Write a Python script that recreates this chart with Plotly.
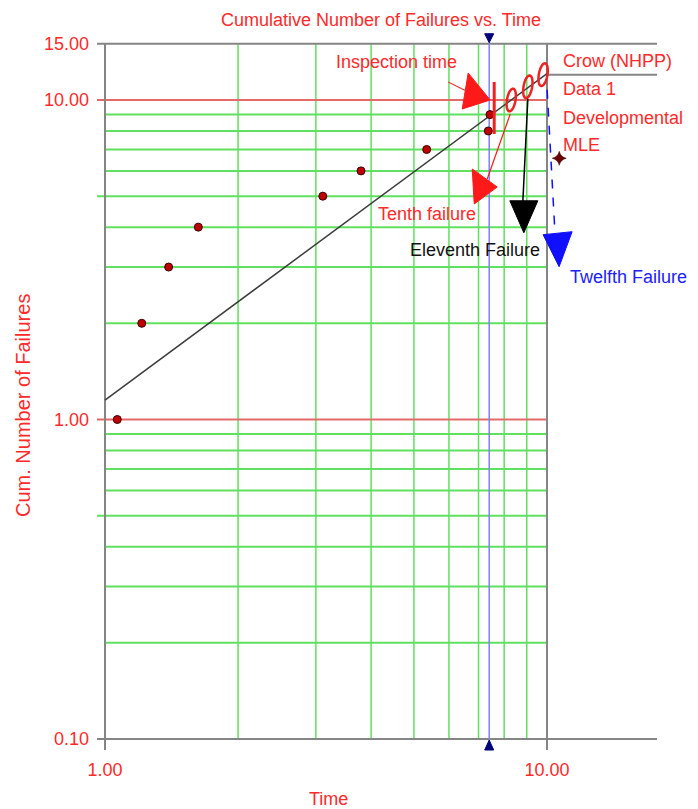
import numpy as np
import plotly.graph_objects as go

# ---------------- data ----------------
failure_times = [1.066, 1.211, 1.393, 1.626, 3.11, 3.795, 5.343, 7.366, 7.43]
cum_failures = [1, 2, 3, 4, 5, 6, 7, 8, 9]

crow_times = [1.0, 10.0]
crow_cum = [1.15, 12.1]

mle_time = [10.66]
mle_cum = [6.57]

inspection_time = 7.4
predicted_times = [8.3, 9.05, 9.8]
predicted_cum = [10, 11, 12]
predicted_labels = ["Tenth failure", "Eleventh Failure", "Twelfth Failure"]

x_tick_vals = [1, 10]
x_tick_text = ["1.00", "10.00"]
y_tick_vals = [0.1, 1, 10, 15]
y_tick_text = ["0.10", "1.00", "10.00", "15.00"]

grid_red_y = [1, 10]
grid_green_y = [0.2, 0.3, 0.4, 0.5, 0.6, 0.7, 0.8, 0.9, 2, 3, 4, 5, 6, 7, 8, 9]
grid_green_x = [2, 3, 4, 5, 6, 7, 8, 9]

legend_labels = ["Crow (NHPP)", "Data 1", "Developmental", "MLE"]
title_text = "Cumulative Number of Failures vs. Time"
x_title = "Time"
y_title = "Cum. Number of Failures"

# ---------------- geometry / styles ----------------
PAGE_OFF = 8                      # browser body margin
W, H = 698, 809                   # window size
ML, MR, MT, MB = 95, 8, 30, 54    # plot-area edges in window pixels
PW, PH = W - ML - MR, H - MT - MB
X1_PX, XDEC = 105, 442.0          # window pixel of x=1, pixels per decade
Y10_PX, YDEC = 100, 319.5         # window pixel of y=10, pixels per decade
xr = [(ML - X1_PX) / XDEC, (W - MR - X1_PX) / XDEC]
yr = [1 - (H - MB - Y10_PX) / YDEC, 1 + (Y10_PX - MT) / YDEC]

X_BOX0, X_BOX1, X_END = 1, 10, 17.74
X_TICK0 = 0.959
Y_BOX0, Y_BOX1 = 0.1, 15
Y_EXT = 0.0924
Y_SEP = 12

RED = "#ff2a2a"
GREEN = "#5fe05f"
REDGRID = "#e46a6a"
GRAY = "#858585"
FONT = "Liberation Sans, Arial, sans-serif"


def px2paper_x(px):
    return (px - ML) / PW


def px2paper_y(py):
    return 1 - (py - MT) / PH


fig = go.Figure()

shapes = []


def line_shape(x0, x1, y0, y1, color, width, layer="below", dash="solid"):
    shapes.append(dict(type="line", xref="x", yref="y", x0=x0, x1=x1, y0=y0, y1=y1,
                       line=dict(color=color, width=width, dash=dash), layer=layer))


# green grid
for gy in grid_green_y:
    x0 = X_TICK0 if gy in (0.5, 5) else X_BOX0
    line_shape(x0, X_BOX1, gy, gy, GREEN, 2)
for gx in grid_green_x:
    line_shape(gx, gx, Y_BOX0, Y_BOX1, GREEN, 1.5)
# red grid
for gy in grid_red_y:
    line_shape(X_TICK0, X_BOX1, gy, gy, REDGRID, 2)
# frame
line_shape(X_TICK0, X_END, Y_BOX1, Y_BOX1, GRAY, 2)
line_shape(X_TICK0, X_END, Y_BOX0, Y_BOX0, GRAY, 2)
line_shape(X_BOX0, X_BOX0, Y_EXT, Y_BOX1, GRAY, 2)
line_shape(X_BOX1, X_BOX1, Y_EXT, Y_BOX1, GRAY, 2)
line_shape(X_BOX1, X_END, Y_SEP, Y_SEP, GRAY, 2)
# inspection time line
line_shape(inspection_time, inspection_time, Y_BOX0, Y_BOX1, "#7f7fff", 1.5)


def pix_path(xa, ya, pts, close=True, fill=None, color="red", width=1.5, dash="solid", layer="above"):
    d = "M" + " L".join(f"{px:.2f},{py:.2f}" for px, py in pts) + (" Z" if close else "")
    shp = dict(type="path", xref="x", yref="y", xsizemode="pixel", ysizemode="pixel",
               xanchor=xa, yanchor=ya, path=d, layer=layer,
               line=dict(color=color, width=width, dash=dash))
    shp["fillcolor"] = fill if fill else "rgba(0,0,0,0)"
    shapes.append(shp)


# navy markers at the ends of the inspection line
pix_path(inspection_time, Y_BOX1, [(-4.5, 10), (4.5, 10), (0, 1)], fill="#00007a", color="#00007a", width=1)
pix_path(inspection_time, Y_BOX0, [(-4.5, -11), (4.5, -11), (0, -1)], fill="#00007a", color="#00007a", width=1)

# inspection-time bar and arrow
pix_path(inspection_time, 10, [(5, 18), (5, -34)], close=False, color="#ee2222", width=3)
pix_path(inspection_time, 10, [(-41, 18), (-23, 9)], close=False, color="#ee3333", width=1.2)
pix_path(inspection_time, 10, [(-21, 27), (1, 0), (-27, -9)], fill="#ff1a1a", color="#ff1a1a", width=1)

# predicted failure ellipses
t = np.linspace(0, 2 * np.pi, 41)
a_e, b_e, tilt = 4.3, 11.5, np.radians(10)
ell = [(a_e * np.cos(v) * np.cos(tilt) + b_e * np.sin(v) * np.sin(tilt),
        -a_e * np.cos(v) * np.sin(tilt) + b_e * np.sin(v) * np.cos(tilt)) for v in t]
for pt, pc in zip(predicted_times, predicted_cum):
    pix_path(pt, pc, ell, fill=None, color="#ee2222", width=2.5)

# arrows from predicted failures
arrow_specs = [
    ([(-1, -14), (-24, -79)], [(-39, -69), (-14, -87), (-37, -104)], "#ff1a1a", "solid", 1.2),
    ([(0, -12), (-5, -115)], [(-18, -114), (10, -114), (-4, -146)], "#000000", "solid", 1.5),
    ([(4, -15), (12, -161)], [(0, -160), (29, -157), (16, -192)], "#1010ff", "dash", 1.5),
]
for (lp, tp, col, dsh, lw), pt, pc in zip(arrow_specs, predicted_times, predicted_cum):
    pix_path(pt, pc, lp, close=False, color=col, width=lw, dash=dsh)
    pix_path(pt, pc, tp, fill=col, color=col, width=1)

# ---------------- traces ----------------
fig.add_trace(go.Scatter(x=crow_times, y=crow_cum, mode="lines",
                         line=dict(color="#3c3c3c", width=1.5), name=legend_labels[0]))
fig.add_trace(go.Scatter(x=failure_times, y=cum_failures, mode="markers",
                         marker=dict(size=8, color="#c00000", line=dict(color="#3a0000", width=1)),
                         name=legend_labels[1]))
fig.add_trace(go.Scatter(x=mle_time, y=mle_cum, mode="markers",
                         marker=dict(symbol="star-diamond", size=10, color="#6a0000",
                                     line=dict(color="#3a0000", width=0.5)),
                         name="Developmental MLE"))

# ---------------- annotations ----------------
ann = []


def text_ann(txt, px, py, color=RED, xanchor="center", size=18, angle=0):
    ann.append(dict(text=txt, x=px2paper_x(px), y=px2paper_y(py), xref="paper", yref="paper",
                    showarrow=False, xanchor=xanchor, yanchor="middle", textangle=angle,
                    font=dict(family=FONT, size=size, color=color)))


text_ann(title_text, 381, 20)
text_ann("Inspection time", 396, 62)
for lbl, py in zip(legend_labels, [61, 89, 118, 145]):
    text_ann(lbl, 561, py, xanchor="left")
text_ann(predicted_labels[0], 427, 214)
text_ann(predicted_labels[1], 475, 250, color="#111111")
text_ann(predicted_labels[2], 628, 277, color="#2020ff")
text_ann(x_title, 328, 799)
text_ann(y_title, 23, 406, size=20, angle=-90)

fig.update_layout(
    width=W - PAGE_OFF, height=H - PAGE_OFF,
    margin=dict(l=ML - PAGE_OFF, r=MR, t=MT - PAGE_OFF, b=MB, pad=0),
    paper_bgcolor="white", plot_bgcolor="white",
    showlegend=False,
    font=dict(family=FONT, size=18, color=RED),
    xaxis=dict(type="log", range=xr, tickvals=x_tick_vals, ticktext=x_tick_text,
               showgrid=False, zeroline=False, showline=False, ticks="",
               tickfont=dict(family=FONT, size=18, color=RED), ticklabelstandoff=2),
    yaxis=dict(type="log", range=yr, tickvals=y_tick_vals, ticktext=y_tick_text,
               showgrid=False, zeroline=False, showline=False, ticks="",
               tickfont=dict(family=FONT, size=18, color=RED), ticklabelstandoff=5),
    shapes=shapes,
    annotations=ann,
)

fig.write_html("out.html")
